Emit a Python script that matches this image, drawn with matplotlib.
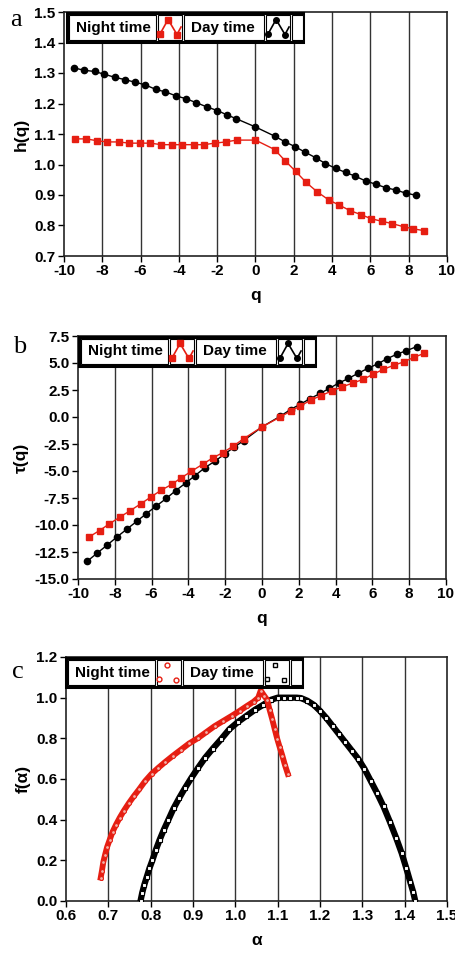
import matplotlib
matplotlib.use("Agg")
import matplotlib.pyplot as plt
from matplotlib.patches import Rectangle
import numpy as np

plt.rcParams['font.family'] = ['Liberation Sans', 'DejaVu Sans']
plt.rcParams['font.weight'] = 'bold'
plt.rcParams['axes.unicode_minus'] = False

RED = '#e61e12'

# ---- panel a / b : generalized Hurst exponent and mass exponent ----
q_day = [-9.5, -8.95, -8.4, -7.9, -7.35, -6.8, -6.3, -5.75, -5.2, -4.7,
         -4.15, -3.65, -3.1, -2.55, -2.0, -1.5, -1.0, 0.0, 1.0, 1.55,
         2.05, 2.6, 3.15, 3.65, 4.2, 4.7, 5.2, 5.75, 6.3, 6.8,
         7.35, 7.85, 8.4]
h_day = [1.317, 1.309, 1.305, 1.296, 1.286, 1.278, 1.270, 1.261, 1.246, 1.238,
         1.225, 1.216, 1.203, 1.189, 1.177, 1.163, 1.150, 1.123, 1.093, 1.074,
         1.059, 1.040, 1.022, 1.003, 0.987, 0.974, 0.962, 0.946, 0.935, 0.924,
         0.916, 0.906, 0.899]
tau_day = [-13.36, -12.59, -11.84, -11.13, -10.39, -9.65, -8.97, -8.25, -7.54, -6.83,
           -6.12, -5.44, -4.69, -4.08, -3.39, -2.78, -2.19, -0.92, 0.08, 0.69,
           1.16, 1.68, 2.18, 2.64, 3.17, 3.57, 4.03, 4.50, 4.93, 5.40,
           5.83, 6.14, 6.51]

q_night = [-9.42, -8.83, -8.29, -7.73, -7.15, -6.59, -6.05, -5.50, -4.91, -4.38,
           -3.84, -3.23, -2.69, -2.13, -1.55, -0.99, 0.0, 1.0, 1.55, 2.09,
           2.65, 3.21, 3.82, 4.37, 4.93, 5.49, 6.05, 6.59, 7.15, 7.73,
           8.25, 8.81]
h_night = [1.084, 1.084, 1.078, 1.074, 1.074, 1.070, 1.070, 1.070, 1.065, 1.065,
           1.065, 1.065, 1.065, 1.070, 1.074, 1.080, 1.080, 1.049, 1.012, 0.978,
           0.941, 0.911, 0.884, 0.867, 0.849, 0.836, 0.822, 0.814, 0.806, 0.796,
           0.789, 0.783]
tau_night = [-11.13, -10.51, -9.89, -9.27, -8.66, -8.04, -7.42, -6.80, -6.24, -5.62,
             -5.03, -4.38, -3.80, -3.30, -2.68, -2.00, -0.92, 0.01, 0.54, 1.03,
             1.56, 1.99, 2.42, 2.80, 3.14, 3.48, 3.97, 4.41, 4.78, 5.12,
             5.52, 5.89]

# ---- panel c : singularity spectrum ----
alpha_night = [0.682, 0.685, 0.688, 0.692, 0.697, 0.703, 0.710, 0.718, 0.727, 0.737,
               0.748, 0.760, 0.773, 0.787, 0.802, 0.818, 0.835, 0.853, 0.872, 0.891,
               0.911, 0.931, 0.951, 0.971, 0.991, 1.010, 1.028, 1.043, 1.054, 1.060,
               1.068, 1.075, 1.081, 1.087, 1.093, 1.099, 1.105, 1.111, 1.117, 1.124]
f_night = [0.115, 0.15, 0.19, 0.225, 0.265, 0.30, 0.34, 0.375, 0.41, 0.445,
           0.48, 0.515, 0.55, 0.59, 0.625, 0.655, 0.685, 0.715, 0.745, 0.775,
           0.80, 0.83, 0.86, 0.885, 0.91, 0.935, 0.96, 0.98, 1.00, 1.035,
           1.01, 0.99, 0.94, 0.895, 0.845, 0.797, 0.755, 0.715, 0.67, 0.625]

alpha_day = [0.776, 0.780, 0.785, 0.791, 0.797, 0.804, 0.812, 0.821, 0.831, 0.842,
             0.854, 0.867, 0.881, 0.896, 0.912, 0.929, 0.947, 0.966, 0.986, 1.006,
             1.026, 1.046, 1.066, 1.085, 1.100, 1.115, 1.130, 1.145, 1.155, 1.170,
             1.185, 1.200, 1.215, 1.230, 1.245, 1.260, 1.275, 1.290, 1.305, 1.320,
             1.335, 1.350, 1.365, 1.380, 1.393, 1.404, 1.413, 1.420, 1.425]
f_day = [0.0, 0.04, 0.08, 0.12, 0.16, 0.20, 0.25, 0.30, 0.35, 0.40,
         0.455, 0.505, 0.555, 0.605, 0.655, 0.705, 0.75, 0.795, 0.845, 0.88,
         0.91, 0.94, 0.965, 0.99, 1.0, 1.0, 1.0, 1.0, 0.998, 0.985,
         0.965, 0.935, 0.90, 0.86, 0.82, 0.78, 0.74, 0.70, 0.65, 0.59,
         0.53, 0.465, 0.39, 0.31, 0.235, 0.16, 0.095, 0.045, 0.0]

W, H = 456, 957
fig = plt.figure(figsize=(W / 100, H / 100), dpi=100)
FS = 11


def make_axes(left, right, top, bottom):
    return fig.add_axes([left / W, 1 - bottom / H, (right - left) / W, (bottom - top) / H])


def style_axes(ax, xlim, xticks, xfmt, ylim, yticks, yfmt, xlabel, ylabel, grid):
    ax.set_xlim(*xlim)
    ax.set_ylim(*ylim)
    ax.set_xticks(xticks)
    ax.set_yticks(yticks)
    ax.set_xticklabels([xfmt.format(v) for v in xticks])
    ax.set_yticklabels([yfmt.format(v) for v in yticks])
    for g in grid:
        ax.axvline(g, color='#333333', lw=1.0, zorder=1)
    for s in ax.spines.values():
        s.set_linewidth(1.2)
        s.set_color('#222222')
    ax.tick_params(direction='out', length=4, width=1, pad=2, labelsize=FS)
    ax.set_xlabel(xlabel, fontsize=FS + 1.5, fontweight='bold', labelpad=7)
    ax.set_ylabel(ylabel, fontsize=FS + 1.5, fontweight='bold', labelpad=4)


def draw_legend(ax, off, kind):
    bb = ax.get_position()
    aw, ah = bb.width * W, bb.height * H

    def fx(p):
        return (off + p) / aw

    def fy(p):
        return 1 - p / ah

    top, bot = 1, 30
    ax.add_patch(Rectangle((fx(0), fy(bot)), fx(236) - fx(0), fy(top) - fy(bot),
                           transform=ax.transAxes, facecolor='white', edgecolor='black',
                           lw=2.2, zorder=5, clip_on=False))
    cells = [(0, 89), (89, 115), (115, 197), (197, 223), (223, 236)]
    for a, b in cells:
        ax.add_patch(Rectangle((fx(a + 2), fy(bot - 2)), fx(b) - fx(a + 2), fy(top + 2) - fy(bot - 2),
                               transform=ax.transAxes, facecolor='white', edgecolor='black',
                               lw=0.8, zorder=6, clip_on=False))
    ax.text(fx(46), fy(15.5), 'Night time', transform=ax.transAxes, ha='center', va='center',
            fontsize=FS, fontweight='bold', zorder=7)
    ax.text(fx(156), fy(15.5), 'Day time', transform=ax.transAxes, ha='center', va='center',
            fontsize=FS, fontweight='bold', zorder=7)
    xs = [0.09, 0.42, 0.79, 0.96]
    ys = [0.25, 0.82, 0.22, 0.52]
    for (a, b), col, mk in [((89, 115), RED, 's' if kind == 'line' else 'o'),
                            ((197, 223), 'black', 'o' if kind == 'line' else 's')]:
        px = [fx(a + 2 + x * (b - a - 2)) for x in xs]
        py = [fy(bot - 2 - y * (bot - top - 4)) for y in ys]
        if kind == 'line':
            ax.plot(px, py, color=col, lw=1.2, transform=ax.transAxes, zorder=8, clip_on=False)
            ax.plot(px[:3], py[:3], mk, color=col, ms=4, transform=ax.transAxes, zorder=8, clip_on=False)
        else:
            ax.plot(px[:3], py[:3], mk, mfc='white', mec=col, mew=1, ms=3.5,
                    transform=ax.transAxes, zorder=8, clip_on=False)


# panel a
ax1 = make_axes(64, 447, 12, 256)
style_axes(ax1, (-10, 10), list(range(-10, 11, 2)), '{}', (0.7, 1.5),
           list(np.round(np.arange(0.7, 1.51, 0.1), 1)), '{:.1f}', 'q', 'h(q)',
           range(-8, 9, 2))
ax1.plot(q_night, h_night, '-s', color=RED, lw=1, ms=4.5, zorder=3)
ax1.plot(q_day, h_day, '-o', color='black', lw=1, ms=4.5, zorder=3)
draw_legend(ax1, 3, 'line')
fig.text(10 / W, 1 - 20 / H, 'a', fontsize=19, family='Liberation Serif', fontweight='normal',
         va='center', ha='left')

# panel b
ax2 = make_axes(78, 446, 336, 579)
style_axes(ax2, (-10, 10), list(range(-10, 11, 2)), '{}', (-15, 7.5),
           list(np.arange(-15, 7.6, 2.5)), '{:.1f}', 'q', 'τ(q)',
           range(-8, 9, 2))
ax2.plot(q_day, tau_day, '-o', color='black', lw=1, ms=4.5, zorder=3)
ax2.plot(q_night, tau_night, '-s', color=RED, lw=1, ms=4.5, zorder=3)
draw_legend(ax2, 1, 'line')
fig.text(13 / W, 1 - 347 / H, 'b', fontsize=19, family='Liberation Serif', fontweight='normal',
         va='center', ha='left')

# panel c
ax3 = make_axes(66, 447, 657, 901)
style_axes(ax3, (0.6, 1.5), list(np.round(np.arange(0.6, 1.51, 0.1), 1)), '{:.1f}', (0.0, 1.2),
           list(np.round(np.arange(0.0, 1.21, 0.2), 1)), '{:.1f}', 'α', 'f(α)',
           np.round(np.arange(0.7, 1.41, 0.1), 1))
ax3.plot(alpha_day, f_day, '-s', color='black', lw=4.5, ms=3.5, mfc='white', mec='black',
         mew=0.8, zorder=3)
ax3.plot(alpha_night, f_night, '-o', color=RED, lw=4.2, ms=2.8, mfc='#f4b0a8', mec=RED,
         mew=0.8, zorder=4)
draw_legend(ax3, 0, 'marker')
fig.text(12 / W, 1 - 672 / H, 'c', fontsize=19, family='Liberation Serif', fontweight='normal',
         va='center', ha='left')

fig.savefig('out.png', dpi=100)
